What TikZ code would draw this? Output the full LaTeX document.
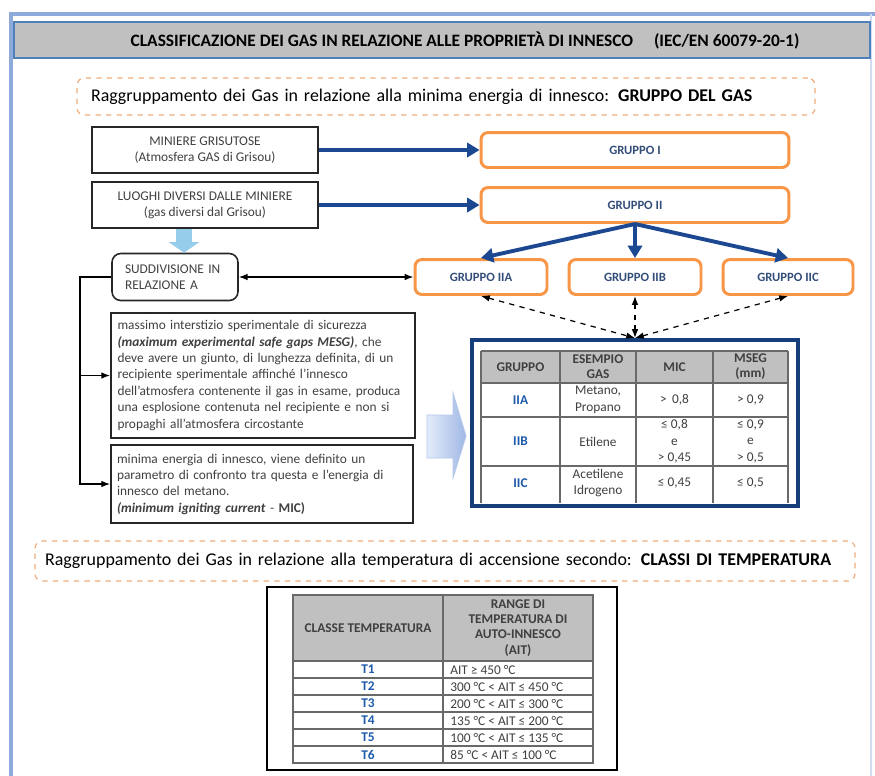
\documentclass[tikz,border=0pt]{standalone}
\usepackage{fontspec}
\setmainfont{Carlito}
\usepackage{xcolor}
\usepackage{tikz}
\usetikzlibrary{positioning, arrows.meta, calc}
\definecolor{GsOrange}{RGB}{247,150,70}
\definecolor{GsPeach}{RGB}{242,172,125}
\definecolor{GsNavy}{RGB}{22,62,122}
\definecolor{GsBlue}{RGB}{28,72,145}
\definecolor{GsLabel}{RGB}{52,78,122}
\definecolor{GsFrame}{RGB}{142,170,219}
\definecolor{GsEdge}{RGB}{79,129,189}
\definecolor{GsGrey}{RGB}{192,192,192}
\definecolor{GsText}{RGB}{64,64,64}
\definecolor{GsGrid}{RGB}{105,105,105}
\definecolor{GsSky}{RGB}{150,205,235}
\definecolor{GsIce}{RGB}{228,236,250}
\definecolor{GsLilac}{RGB}{160,184,228}
\definecolor{GsCode}{RGB}{30,90,170}

\begin{document}
\begin{tikzpicture}[x=0.02cm, y=-0.02cm,
      txtbox/.style={rectangle, draw=black!85, line width=1.1pt, fill=white,
                     text=GsText, font=\fontsize{7.6}{9}\selectfont, inner sep=0pt},
      grp/.style={rectangle, rounded corners=4pt, draw=GsOrange, line width=1.7pt,
                  fill=white, text=GsLabel, font=\fontsize{7.2}{8}\selectfont\bfseries,
                  minimum height=0.7cm},
      hint/.style={rectangle, rounded corners=4pt, draw=GsPeach, dashed,
                   line width=0.7pt, fill=white, align=left, inner sep=0pt,
                   font=\fontsize{10.2}{12}\selectfont},
      arr/.style={-{Triangle[length=7pt, width=8pt]}, GsBlue, line width=2.2pt},
      dbl/.style={{Latex[length=5pt]}-{Latex[length=5pt]}, line width=0.7pt},
      cell/.style={text=GsText, font=\fontsize{7.6}{9.5}\selectfont, align=center, inner sep=0pt},
      hcell/.style={cell, font=\fontsize{7.6}{8.6}\selectfont\bfseries},
      gcode/.style={cell, text=GsCode, font=\fontsize{7.6}{9}\selectfont\bfseries}
    ]
    \useasboundingbox (0,0) rectangle (875,775);
    \fill[white] (0,0) rectangle (875,775);
    \draw[GsFrame, line width=2.6pt] (11,780) -- (11,14) -- (880,14);
    \draw[GsFrame!40, line width=0.6pt] (871,14) -- (871,780);

    % title bar
    \node[draw=GsEdge, line width=1.2pt, fill=GsGrey, minimum width=17.12cm,
          minimum height=0.72cm] (bar) at (442,40) {};
    \node[font=\fontsize{9.9}{11}\selectfont\bfseries] (title) at (465,41)
         {CLASSIFICAZIONE DEI GAS IN RELAZIONE ALLE PROPRIETÀ DI INNESCO\hspace{1.2em}(IEC/EN 60079-20-1)};

    \node[hint, minimum width=14.76cm, minimum height=0.74cm, text width=14.2cm] (hint1) at (446,96.5)
         {Raggruppamento dei Gas in relazione alla minima energia di innesco: \textbf{GRUPPO DEL GAS}};

    \node[txtbox, minimum width=4.52cm, minimum height=0.92cm, align=center] (min) at (205,150)
         {MINIERE GRISUTOSE\\(Atmosfera GAS di Grisou)};
    \node[txtbox, minimum width=4.52cm, minimum height=0.92cm, align=center] (luo) at (205,205)
         {LUOGHI DIVERSI DALLE MINIERE\\(gas diversi dal Grisou)};
    \node[grp, minimum width=6.16cm] (g1)  at (635,150) {GRUPPO I};
    \node[grp, minimum width=6.16cm] (g2)  at (635,205) {GRUPPO II};
    \node[grp, minimum width=2.64cm] (g2a) at (481,277) {GRUPPO IIA};
    \node[grp, minimum width=2.64cm] (g2b) at (635,277) {GRUPPO IIB};
    \node[grp, minimum width=2.6cm]  (g2c) at (788,277) {GRUPPO IIC};
    \node[txtbox, rounded corners=5pt, line width=0.9pt, minimum width=2.52cm,
          minimum height=0.94cm, text width=2.0cm, align=left] (sud) at (175,277)
         {SUDDIVISIONE IN\\RELAZIONE A};

    \node[txtbox, minimum width=6.08cm, minimum height=2.5cm, text width=5.82cm,
          align=left, font=\fontsize{7.6}{9.3}\selectfont] (mesg) at (263,375.5)
         {massimo interstizio sperimentale di sicurezza\\
          \textbf{\textit{(maximum experimental safe gaps MESG)}}, che\\
          deve avere un giunto, di lunghezza definita, di un\\
          recipiente sperimentale affinché l'innesco\\
          dell'atmosfera contenente il gas in esame, produca\\
          una esplosione contenuta nel recipiente e non si\\
          propaghi all'atmosfera circostante};
    \node[txtbox, minimum width=6.04cm, minimum height=1.56cm, text width=5.8cm,
          align=left, font=\fontsize{7.6}{9.3}\selectfont] (mic) at (262,484)
         {minima energia di innesco, viene definito un\\
          parametro di confronto tra questa e l'energia di\\
          innesco del metano.\\
          \textbf{\textit{(minimum igniting current}} - \textbf{MIC)}};

    % group table
    \node[draw=GsNavy, line width=2.3pt, minimum width=6.52cm, minimum height=3.32cm] (tab) at (635,423) {};
    \fill[GsGrey] (481,351) rectangle (788,383);
    \foreach \y in {351,383,417,466}
      \draw[GsGrid, line width=0.6pt] (481,\y) -- (788,\y);
    \foreach \x in {481,560,636,713,788}
      \draw[GsGrid, line width=0.6pt] (\x,351) -- (\x,503);
    \node[hcell] (hgr) at (520.5,367) {GRUPPO};
    \node[hcell] (hes) at (598,367)   {ESEMPIO\\GAS};
    \node[hcell] (hmi) at (674.5,367) {MIC};
    \node[hcell] (hms) at (750.5,367) {MSEG\\(mm)};
    \node[gcode] (ca) at (520.5,400) {IIA};
    \node[cell]  (ea) at (598,400)   {Metano,\\Propano};
    \node[cell]  (ma) at (674.5,400) {>\, 0,8};
    \node[cell]  (sa) at (750.5,400) {> 0,9};
    \node[gcode] (cb) at (520.5,441.5) {IIB};
    \node[cell]  (eb) at (598,441.5)   {Etilene};
    \node[cell]  (mb) at (674.5,441.5) {≤ 0,8\\e\\> 0,45};
    \node[cell]  (sb) at (750.5,441.5) {≤ 0,9\\e\\> 0,5};
    \node[gcode] (cc) at (520.5,483) {IIC};
    \node[cell]  (ec) at (598,483)   {Acetilene\\Idrogeno};
    \node[cell]  (mc) at (674.5,483) {≤ 0,45};
    \node[cell]  (sc) at (750.5,483) {≤ 0,5};

    % block arrow into the table
    \shadedraw[left color=GsIce, right color=GsLilac, draw=GsLilac!80, line width=0.5pt]
      (427,415) -- (453,415) -- (453,393) -- (466,436) -- (453,478) -- (453,458) -- (427,458) -- cycle;

    % connectors
    \draw[arr] (min) -- (g1);
    \draw[arr] (luo) -- (g2);
    \draw[arr] (g2.south) -- (g2a.north);
    \draw[arr] (g2.south) -- (g2b.north);
    \draw[arr] (g2.south) -- (g2c.north);
    \coordinate (dn) at (184,0);
    \draw[GsSky, line width=9pt, -{Triangle[length=6pt, width=17pt]}] (luo.south -| dn) -- (sud.north -| dn);
    \draw[dbl] (sud) -- (g2a);
    \draw[dbl, dashed] (g2a.south) -- (tab.north);
    \draw[dbl, dashed] (g2b.south) -- (tab.north);
    \draw[dbl, dashed] (g2c.south) -- (tab.north);
    \coordinate (bus) at (80,277);
    \draw[-{Latex[length=5pt]}, line width=0.7pt] (sud.west) -- (bus) |- (mic.west);
    \draw[-{Latex[length=5pt]}, line width=0.7pt] (bus |- mesg.west) -- (mesg.west);

    \node[hint, minimum width=16.4cm, minimum height=0.8cm, text width=16cm] (hint2) at (445,561)
         {Raggruppamento dei Gas in relazione alla temperatura di accensione secondo: \textbf{CLASSI DI TEMPERATURA}};

    % temperature table
    \node[draw=black, line width=1.2pt, minimum width=7.0cm, minimum height=3.66cm] (tmp) at (442,678.5) {};
    \fill[GsGrey] (293,595) rectangle (593,661);
    \draw[GsGrid, line width=0.6pt] (293,595) rectangle (593,763);
    \foreach \y in {661,678,695,712,729,746}
      \draw[GsGrid, line width=0.6pt] (293,\y) -- (593,\y);
    \draw[GsGrid, line width=0.6pt] (443,595) -- (443,763);
    \node[hcell] (hcl) at (368,628) {CLASSE TEMPERATURA};
    \node[hcell] (hrg) at (518,628) {RANGE DI\\TEMPERATURA DI\\AUTO-INNESCO\\(AIT)};
    \foreach \t/\r [count=\i] in {T1/AIT ≥ 450 °C, T2/300 °C < AIT ≤ 450 °C,
        T3/200 °C < AIT ≤ 300 °C, T4/135 °C < AIT ≤ 200 °C,
        T5/100 °C < AIT ≤ 135 °C, T6/85 °C < AIT ≤ 100 °C} {
      \node[gcode] (t\i) at (368,652.5+17*\i) {\t};
      \node[cell, anchor=west] (r\i) at (450,652.5+17*\i) {\r};
    }
  \end{tikzpicture}
\end{document}
